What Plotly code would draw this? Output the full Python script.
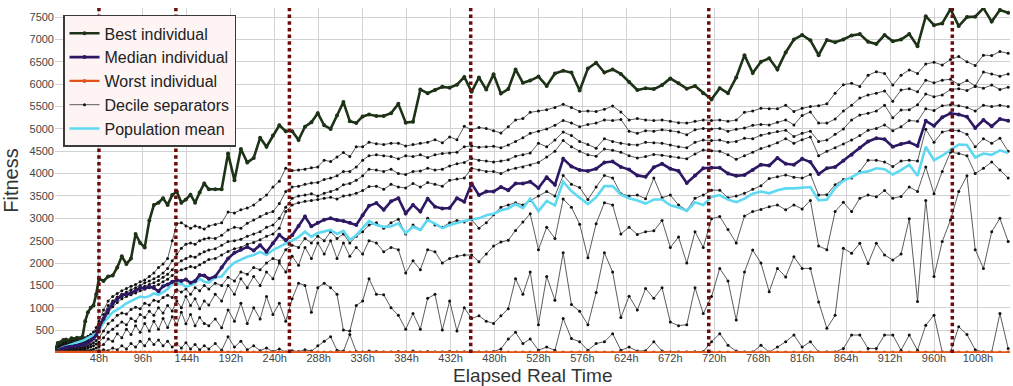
import plotly.graph_objects as go

TIME_H = [0,3,6,9,12,15,18,21,24,27,30,33,36,39,42,45,
          48,53,58,63,68,73,78,83,88,93,98,103,108,113,118,123,128,133,138,143,148,153,158,163,168,
          175,182,189,196,203,210,217,224,231,238,245,252,259,266,273,280,287,294,301,308,315,322,329,336,343,
          351,359,367,375,383,391,399,407,415,423,431,439,447,455,463,471,479,487,495,503,511,519,
          528,537,546,555,564,573,582,591,600,609,618,627,636,645,654,663,672,681,690,699,
          708,717,726,735,744,753,762,771,780,789,798,807,816,825,834,843,852,861,870,879,
          888,897,906,915,924,933,942,951,960,969,978,987,996,1005,1014,1023,1032,1041]

BEST = [60,210,230,280,290,270,320,300,330,320,350,700,900,1000,1050,1300,
        1650,1600,1700,1720,1900,2150,1980,2100,2650,2450,2350,2950,3300,3350,3450,3300,3520,3600,3350,3420,3530,3350,3580,3780,3650,
        3650,3650,4450,3850,4550,4250,4350,4800,4600,4850,5080,4950,4950,4750,5050,5150,5350,5080,5000,5300,5600,5170,5130,5280,5320,
        5290,5290,5350,5560,5140,5160,5880,5800,5870,5940,5920,5990,6160,5830,6150,5880,6220,5790,5890,6330,6030,6080,
        6170,5960,6240,6300,6260,5860,6350,6480,6260,6330,6230,6050,5870,5910,5890,5980,6130,6020,5900,5960,
        5800,5660,5910,5800,6150,6650,6250,6500,6580,6330,6710,7000,7100,6980,6650,6990,6940,7000,7090,7120,
        6950,6900,7100,6960,7000,7120,6850,7520,7320,7360,7680,7300,7500,7510,7700,7400,7660,7600]

MEDIAN = [10,40,70,90,110,120,130,140,150,160,170,190,220,260,310,380,
          550,750,950,1100,1200,1280,1300,1330,1380,1450,1430,1470,1440,1370,1480,1520,1580,1620,1600,1630,1560,1600,1730,1720,1650,
          1700,1900,2100,2230,2300,2360,2280,2400,2250,2440,2630,2510,2620,2830,3040,2820,2900,2970,3000,2960,2940,2900,2850,3070,3280,
          3340,3190,3380,3450,3110,3300,3150,3440,3260,3220,3230,3450,3370,3780,3520,3600,3600,3700,3630,3780,3780,3820,
          3680,3920,3750,4330,4160,4080,4060,4110,4250,4270,4150,4090,3960,3930,4140,4220,4110,4060,3790,3960,
          4120,4130,4130,4000,3950,3970,4080,4200,4180,4350,4220,4200,4330,4260,3990,4120,4150,4290,4420,4580,
          4720,4790,4770,4600,4660,4700,4620,5180,5070,5260,5350,5320,5270,5020,5200,5060,5220,5180]

MEAN = [10,60,90,120,140,160,180,190,210,240,260,290,320,350,380,420,
        480,680,780,900,960,1020,1100,1150,1200,1250,1230,1260,1320,1290,1350,1420,1540,1550,1540,1470,1500,1560,1650,1580,1560,
        1680,1700,1880,2010,2070,2140,2180,2250,2180,2290,2360,2440,2500,2580,2700,2590,2670,2700,2740,2650,2720,2520,2620,2780,2940,
        2850,2810,2820,2890,2670,2810,2740,2960,2880,2780,2850,2900,2940,2980,3000,3070,3100,3180,3220,3320,3230,3440,
        3160,3390,3290,3820,3610,3460,3320,3470,3720,3720,3530,3450,3400,3330,3420,3420,3290,3240,3170,3360,
        3300,3480,3520,3420,3360,3440,3550,3600,3560,3630,3670,3670,3680,3700,3400,3420,3680,3840,3920,4020,
        4050,4120,4100,3980,4080,4200,3950,4600,4300,4400,4530,4650,4640,4360,4450,4420,4520,4460]

WORST = [0,0,0,0,0,0,0,0,0,0,0,0,0,0,0,0,
         0,0,0,0,0,0,0,0,0,0,0,0,0,0,0,0,0,0,0,0,0,0,0,0,0,
         0,0,0,0,0,0,0,0,0,0,0,0,0,0,0,0,0,0,0,0,0,0,0,0,0,
         0,0,0,0,0,0,0,0,0,0,0,0,0,0,0,0,0,0,0,0,0,0,
         0,0,0,0,0,0,0,0,0,0,0,0,0,0,0,0,0,0,0,0,
         0,0,0,0,0,0,0,0,0,0,0,0,0,0,0,0,0,0,0,0,
         0,0,0,0,0,0,0,0,0,0,0,0,0,0,0,0,0,0]

D9 = [40,150,200,230,250,240,270,260,280,270,300,330,360,400,460,560,
      700,950,1150,1250,1320,1380,1430,1480,1520,1580,1620,1700,1780,1900,1980,2100,2500,2880,2900,2830,2780,2830,2800,2760,2830,
      2860,2900,3140,3120,3190,3230,3300,3420,3520,3700,3830,4120,4070,4080,4100,4130,4150,4300,4270,4370,4470,4380,4600,4600,4700,
      4670,4650,4680,4680,4620,4650,4680,4700,4760,4690,4820,4760,5060,4980,5030,5010,4960,4910,5050,5200,5230,5370,
      5400,5430,5480,5550,5480,5390,5400,5390,5440,5510,5380,5200,5230,5200,5190,5200,5170,5140,5130,5170,
      5200,5190,5200,5170,5200,5370,5400,5460,5450,5450,5530,5390,5460,5500,5520,5560,5800,5990,6020,5950,
      6200,6280,6240,5980,6200,6320,6240,6450,6490,6430,6550,6620,6500,6420,6650,6640,6730,6690]

D8 = [30,120,160,190,210,200,230,220,240,230,260,280,300,340,390,480,
      620,850,1050,1150,1240,1300,1350,1400,1450,1500,1560,1600,1650,1700,1780,1880,2050,2200,2330,2420,2450,2420,2500,2540,2560,
      2550,2620,2740,2800,2780,2890,2960,3040,3110,3150,3330,3600,3700,3720,3760,3790,3800,3870,3900,3950,4050,4050,4150,4300,4400,
      4420,4400,4380,4330,4400,4380,4420,4360,4420,4450,4460,4480,4600,4620,4590,4600,4610,4580,4640,4720,4800,4900,
      4950,5000,5080,5190,5130,5050,5100,5130,5200,5190,5210,4950,4900,4960,4950,4980,4960,4930,4870,4980,
      5010,5000,5010,4950,4990,5020,5080,5100,5090,5150,5200,5090,5300,5380,5130,5130,5220,5400,5530,5690,
      5760,5800,5850,5620,5870,5900,5830,6090,6030,6090,6110,5990,6080,5960,6270,6230,6180,6230]

D7 = [20,100,130,160,180,170,200,190,210,200,230,250,270,300,350,430,
      540,760,960,1080,1180,1250,1300,1340,1380,1430,1480,1520,1560,1610,1680,1750,1850,1980,2050,2100,2150,2130,2200,2250,2290,
      2320,2400,2480,2500,2530,2600,2650,2700,2800,2850,3000,3250,3450,3500,3520,3550,3500,3560,3600,3650,3750,3780,3850,3950,4100,
      4080,4050,4100,4000,3980,4050,4060,4120,4080,4100,4170,4220,4250,4340,4300,4280,4260,4280,4310,4390,4420,4460,
      4680,4600,4750,4930,4850,4720,4650,4570,4780,4720,4680,4650,4640,4700,4690,4680,4640,4600,4580,4700,
      4750,4740,4750,4700,4720,4790,4780,4860,4900,4940,4970,4830,4900,4950,4720,4750,4880,5000,5200,5310,
      5350,5400,5530,5250,5420,5430,5540,5780,5720,5760,5880,5900,5860,5950,5910,5980,5880,5930]

D6 = [15,80,110,130,150,140,160,150,170,160,190,210,230,260,310,380,
      460,680,880,1020,1120,1200,1250,1290,1330,1380,1420,1450,1480,1520,1580,1640,1720,1800,1850,1880,1920,1900,1960,2020,2080,
      2100,2180,2260,2320,2350,2420,2460,2520,2600,2650,2780,3150,3300,3350,3380,3400,3420,3450,3470,3430,3500,3520,3560,3620,3710,
      3720,3650,3760,3700,3680,3780,3700,3800,3760,3720,3850,3880,3900,4120,4080,4050,4050,4000,4080,4120,4150,4190,
      4250,4370,4500,4740,4600,4500,4420,4390,4550,4520,4480,4400,4350,4380,4430,4410,4380,4360,4330,4440,
      4530,4510,4500,4420,4320,4400,4480,4560,4620,4690,4780,4680,4760,4820,4400,4500,4580,4660,4750,4850,
      4970,5010,5090,4960,5050,5190,5170,5450,5410,5520,5540,5520,5480,5400,5530,5500,5530,5500]

D4 = [5,40,60,70,80,80,90,90,100,100,110,130,150,180,220,270,
      330,480,640,720,830,880,860,960,1010,980,1100,1060,1170,1140,1230,1280,1230,1400,1350,1420,1300,1450,1380,1500,1420,
      1550,1500,1680,1600,1800,1750,1900,1850,2000,2100,2050,2300,2400,2350,2550,2450,2600,2500,2700,2550,2650,2450,2600,2700,2850,
      2900,2780,2900,2980,2650,2850,2750,3000,2850,2800,2900,2950,2920,2970,2780,2900,3080,3250,3300,3350,3300,3400,
      3500,3600,3500,3960,3760,3690,3420,3700,3960,3900,3550,3500,3520,3440,3900,3460,3520,3300,3180,3450,
      3520,3630,3630,3460,3500,3560,3650,3730,3890,3930,3970,3920,3900,3980,3520,3530,3750,3870,3900,4050,
      4300,4300,4260,4160,4280,4300,4280,4990,4700,4930,4970,4960,4880,4600,4780,4680,4790,4500]

D3 = [0,20,30,40,40,50,50,50,60,60,70,80,100,120,150,190,
      230,330,450,520,600,680,620,760,700,850,780,920,830,1000,880,1050,930,1150,1000,1250,1050,1200,980,1150,1060,
      1300,1150,1500,1300,1650,1450,1700,1500,1800,1650,2000,1800,2150,1950,2350,2100,2450,2200,2500,2100,2450,2150,2350,2200,2500,
      2450,2250,2350,2300,1780,2050,1850,2300,2250,2000,2100,2150,2180,2180,2030,2200,2380,2470,2510,2730,2920,3100,
      2300,2800,2550,3430,3250,2870,2120,2880,3350,3300,2650,2800,2640,2700,2720,2950,2350,2580,2000,2700,
      2350,2990,3040,2750,2450,3050,3150,3200,3260,3300,3190,3300,3210,3400,2380,2300,3150,3360,3150,3450,
      3520,3480,3620,3450,3490,3700,3600,4150,3550,4050,4480,4450,4400,4000,4120,4260,4080,3900]

D2 = [0,5,10,10,15,15,20,20,20,25,30,35,40,50,70,100,
      120,180,300,250,420,330,520,400,600,450,650,480,700,520,760,560,800,620,900,640,850,600,780,650,600,
      750,550,950,700,1100,650,1000,750,1250,850,1100,700,1200,1550,1500,900,1450,1550,1450,1300,500,480,1050,1150,1650,
      1300,1290,1000,830,520,870,520,1210,1300,500,1150,480,1000,760,820,700,650,820,980,1650,1300,1800,
      620,1700,1170,2230,1070,920,620,1340,2230,1800,780,1260,950,1430,1210,1450,680,600,620,1450,
      870,1250,1880,1600,725,1800,2290,2000,1360,1880,1690,2140,1880,1880,1130,540,830,2330,2220,2440,
      1990,2440,2180,2070,2200,2990,1140,3400,1700,2480,2960,3600,3950,2300,1880,2700,3000,2480]

D1 = [0,0,0,0,0,0,0,0,0,0,0,0,5,10,15,20,
      30,60,40,100,60,150,80,200,120,250,150,300,180,280,150,250,120,200,100,220,80,180,60,150,80,
      200,50,350,120,250,60,150,40,100,20,80,10,40,20,60,30,150,250,350,50,30,400,20,10,30,
      20,10,10,20,10,30,10,20,10,10,20,10,15,20,10,10,20,80,300,450,200,300,
      50,120,50,760,310,240,50,200,240,420,50,120,30,40,240,30,10,10,10,15,
      20,240,420,160,30,10,10,160,10,120,240,390,120,240,10,10,10,90,390,390,
      90,90,390,390,50,390,50,610,835,10,10,575,400,60,10,10,870,90]

EVENTS_H = [48, 132, 256, 454, 714, 980]
Y_TICKS = [0, 500, 1000, 1500, 2000, 2500, 3000, 3500, 4000, 4500, 5000, 5500, 6000, 6500, 7000, 7500]
X_TICKS = [0, 48, 96, 144, 192, 240, 288, 336, 384, 432, 480, 528, 576, 624, 672, 720, 768, 816, 864, 912, 960, 1008]

series = {"BEST": BEST, "MEDIAN": MEDIAN, "MEAN": MEAN, "WORST": WORST, "D9": D9, "D8": D8,
          "D7": D7, "D6": D6, "D4": D4, "D3": D3, "D2": D2, "D1": D1}
bad = {k: len(v) for k, v in series.items() if len(v) != len(TIME_H)}
if bad:
    raise ValueError(f"length mismatch, time={len(TIME_H)}: {bad}")

DECILES = [D1, D2, D3, D4, D6, D7, D8, D9]

fig = go.Figure()
for i, d in enumerate(DECILES):
    fig.add_trace(go.Scatter(
        x=TIME_H, y=d, mode="lines+markers", name="Decile separators",
        legendgroup="dec", showlegend=(i == 0), legendrank=4,
        line=dict(color="#333333", width=0.8),
        marker=dict(size=3, color="#111111")))

fig.add_trace(go.Scatter(x=TIME_H, y=MEAN, mode="lines", name="Population mean", legendrank=5,
                         line=dict(color="#5fd8f2", width=2.6)))
fig.add_trace(go.Scatter(x=TIME_H, y=MEDIAN, mode="lines+markers", name="Median individual", legendrank=2,
                         line=dict(color="#2e1763", width=2.6), marker=dict(size=4, color="#2e1763")))
fig.add_trace(go.Scatter(x=TIME_H, y=BEST, mode="lines+markers", name="Best individual", legendrank=1,
                         line=dict(color="#1d3216", width=2.6), marker=dict(size=4, color="#1d3216")))
fig.add_trace(go.Scatter(x=TIME_H, y=WORST, mode="lines+markers", name="Worst individual", legendrank=3,
                         line=dict(color="#e2541c", width=2.2), marker=dict(size=4, color="#e2541c")))

for t in EVENTS_H:
    fig.add_shape(type="line", xref="x", yref="paper", x0=t, x1=t, y0=0, y1=1,
                  line=dict(color="#6e0b0b", width=3.5, dash="3.5px,3.2px"))

fig.add_annotation(text="Elapsed Real Time", xref="paper", yref="paper", x=0.5, y=0,
                   xanchor="center", yanchor="bottom", yshift=-35, showarrow=False,
                   font=dict(size=19, color="#333333"))

fig.update_layout(
    width=1013, height=386,
    margin=dict(l=55, r=3, t=8, b=33),
    paper_bgcolor="white", plot_bgcolor="white",
    font=dict(family="Liberation Sans, Arial, sans-serif", color="#333333"),
    legend=dict(x=0.0084, y=0.98, xanchor="left", yanchor="top",
                bgcolor="#fdf4f3", bordercolor="#3a3a3a", borderwidth=1.5,
                font=dict(size=16, color="#222222"), tracegroupgap=0),
    showlegend=True,
)
fig.update_xaxes(range=[0, 1043], tickvals=X_TICKS,
                 ticktext=["" if v == 0 else f"{v}h" for v in X_TICKS],
                 showgrid=True, gridcolor="#d2d2d2", gridwidth=1, zeroline=False, showline=False,
                 tickfont=dict(size=11, color="#444444"), ticks="", ticklabelstandoff=-3)
fig.update_yaxes(range=[-12, 7704], tickvals=Y_TICKS,
                 ticktext=["" if v == 0 else str(v) for v in Y_TICKS],
                 showgrid=True, gridcolor="#d2d2d2", gridwidth=1, zeroline=False, showline=False,
                 tickfont=dict(size=11, color="#444444"), ticks="",
                 title=dict(text="Fitness", font=dict(size=20, color="#333333"), standoff=6))

fig.write_html("out.html")
